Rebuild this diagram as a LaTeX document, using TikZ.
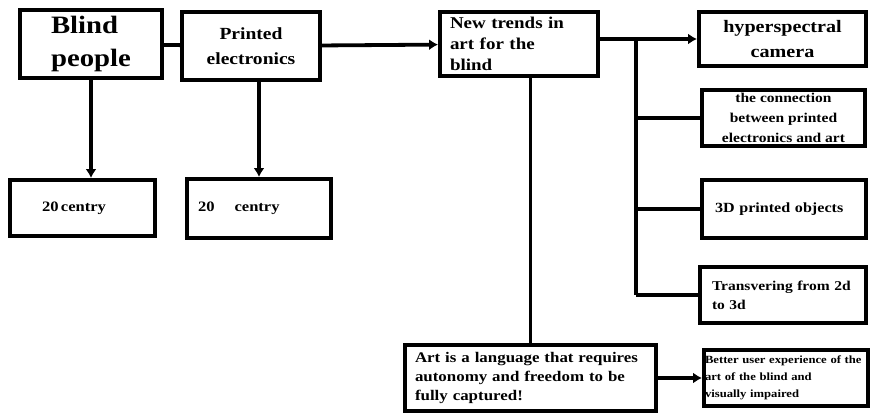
\documentclass[tikz,border=0pt]{standalone}
\usepackage{fontspec}
\setmainfont{Liberation Serif}[FakeStretch=1.15]
\usetikzlibrary{calc,arrows.meta}

\newcommand{\fs}[2]{\bfseries\fontsize{#1}{#2}\selectfont}

\begin{document}
\begin{tikzpicture}[x=1pt,y=-1pt,
  box/.style={draw,line width=3.8pt,inner sep=0pt,font=\bfseries},
  link/.style={line width=3.8pt},
  arr/.style={link,-{Latex[length=9pt,width=11pt]}}]
  \useasboundingbox (0,0) rectangle (871,415);
  \node[box,minimum width=142,minimum height=68,font=\fs{25}{33},align=left] (blind) at (91,44) {Blind\\people};
  \node[box,minimum width=138,minimum height=68,font=\fs{17}{25},align=center] (printed) at (251,46) {Printed\\electronics};
  \node[box,minimum width=158,minimum height=64,font=\fs{16.5}{21},align=left,text width=138] (trends) at (519,44) {New trends in\\ art for the\\ blind};
  \node[box,minimum width=167,minimum height=54,font=\fs{17.5}{25},align=center] (hyper) at (782.5,39) {hyperspectral\\camera};
  \node[box,minimum width=163,minimum height=56,font=\fs{13.5}{20},align=center] (conn) at (783.5,118) {the connection\\between printed\\electronics and art};
  \node[box,minimum width=164,minimum height=58,font=\fs{14}{16},align=left,text width=138] (obj3d) at (784,209) {3D printed objects};
  \node[box,minimum width=166,minimum height=56,font=\fs{13.5}{19},align=left,text width=142] (trans) at (783,295) {Transvering from 2d\\to 3d};
  \node[box,minimum width=251,minimum height=66,font=\fs{14.7}{19},align=left,text width=231] (art) at (530.5,378) {Art is a language that requires\\autonomy and freedom to be\\fully captured!};
  \node[box,minimum width=164,minimum height=56,font=\fs{11}{17},align=left,text width=162] (better) at (786,378) {Better user experience of the\\art of the blind and\\visually impaired};
  \node[box,minimum width=145,minimum height=56,font=\fs{14.4}{16},align=left,text width=81] (cent1) at (82.5,208) {20\,centry};
  \node[box,minimum width=144,minimum height=59,font=\fs{14.4}{16},align=left,text width=122] (cent2) at (259,208.5) {20\hspace{20pt}centry};

  \draw[link] (blind) -- (printed);
  \draw[arr] (printed) -- (trends);
  \draw[arr] (trends.east |- hyper) -- (hyper);
  \coordinate (br) at ($(trends.east |- hyper)!0.37!(hyper.west)$);
  \draw[link] (br) -- (br |- trans);
  \foreach \n in {conn,obj3d,trans}
    \draw[link] (br |- \n) -- (\n.west);
  \draw[link] (art.north |- trends.south) -- (art.north);
  \draw[arr] (art) -- (better);
  \draw[arr] (blind.south) -- (blind.south |- cent1.north);
  \draw[arr] (cent2.north |- printed.south) -- (cent2.north);
\end{tikzpicture}
\end{document}
